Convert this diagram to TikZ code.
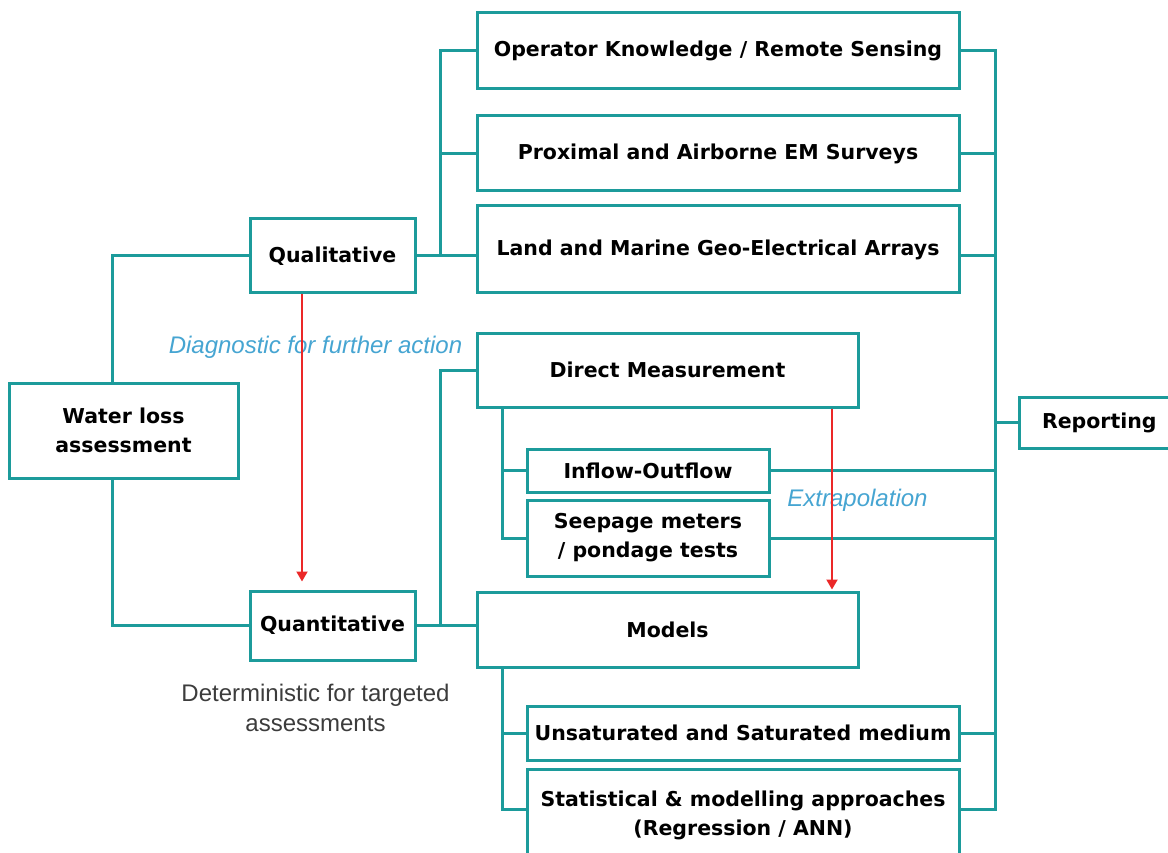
\documentclass[tikz,border=0pt]{standalone}
\usepackage{fontspec}
\setmainfont{DejaVu Sans}
\newfontfamily\labfont{Liberation Sans}
\usetikzlibrary{arrows.meta}
\definecolor{tealline}{RGB}{28,155,155}
\definecolor{redline}{RGB}{235,40,40}
\definecolor{labblue}{RGB}{70,165,210}
\definecolor{labgray}{RGB}{60,60,60}
\begin{document}
\begin{tikzpicture}[x=1pt,y=-1pt,
  box/.style={draw=tealline, line width=3pt, fill=white, inner sep=0pt, align=center,
    font=\bfseries\fontsize{20.5}{29}\selectfont},
  conn/.style={draw=tealline, line width=3pt},
  redarrow/.style={draw=redline, line width=2pt, -{Triangle[length=10pt,width=11pt]}},
  bluelab/.style={text=labblue, font=\labfont\itshape\fontsize{24}{30}\selectfont, inner sep=0pt},
  graylab/.style={text=labgray, font=\labfont\fontsize{24}{30}\selectfont, inner sep=0pt, align=center}]
\useasboundingbox (0,0) rectangle (1168,853);
\clip (0,0) rectangle (1168,853);
\fill[white] (0,0) rectangle (1168,853);

% nodes
\node[box, minimum width=482pt, minimum height=76pt] (op) at (718,51) {Operator Knowledge / Remote Sensing};
\node[box, minimum width=482pt, minimum height=75pt] (prox) at (718,153.5) {Proximal and Airborne EM Surveys};
\node[box, minimum width=482pt, minimum height=87pt] (land) at (718,249.5) {Land and Marine Geo-Electrical Arrays};
\node[box, minimum width=165pt, minimum height=74pt] (qual) at (332.5,256) {Qualitative};
\node[box, minimum width=229pt, minimum height=95pt] (wla) at (123.5,430.5) {Water loss\\assessment};
\node[box, minimum width=381pt, minimum height=74pt] (dm) at (667.5,370) {Direct Measurement};
\node[box, minimum width=242pt, minimum height=43pt] (inflow) at (648,470.5) {Inflow-Outflow};
\node[box, minimum width=242pt, minimum height=76pt] (seep) at (648,538) {Seepage meters\\/ pondage tests};
\node[box, minimum width=381pt, minimum height=75pt] (models) at (667.5,629.5) {Models};
\node[box, minimum width=165pt, minimum height=69pt] (quant) at (332.5,625.5) {Quantitative};
\node[box, minimum width=432pt, minimum height=54pt] (unsat) at (743,733) {Unsaturated and Saturated medium};
\node[box, minimum width=432pt, minimum height=92pt] (stat) at (743,815) {Statistical \& modelling approaches\\(Regression / ANN)};
\node[box, minimum width=170pt, minimum height=51pt, text width=150pt, align=left] (rep) at (1104,422.5) {\hspace*{13pt}Reporting};

% bus x positions
\coordinate (wlx) at (112,0);
\coordinate (qx) at (440,0);
\coordinate (dmx) at (502,0);
\coordinate (rbx) at (995,0);
\coordinate (ra1) at (302,0);
\coordinate (ra2) at (832,0);

% qualitative branch
\draw[conn] (op.west) -| (qual.east -| qx);
\draw[conn] (prox.west) -- (prox.west -| qx);
\draw[conn] (qual.east) -- (land.west |- qual.east);

% water loss to qualitative / quantitative
\draw[conn] (wla.north -| wlx) |- (qual.west);
\draw[conn] (wla.south -| wlx) |- (quant.west);

% quantitative branch
\draw[conn] (dm.west) -| (quant.east -| qx);
\draw[conn] (quant.east) -- (models.west |- quant.east);

% direct measurement sub-branches
\draw[conn] (dm.south -| dmx) |- (inflow.west);
\draw[conn] (dm.south -| dmx) |- (seep.west);

% models sub-branches
\draw[conn] (models.south -| dmx) |- (unsat.west);
\draw[conn] (models.south -| dmx) |- ([yshift=6pt]stat.west);

% reporting bus
\draw[conn] (op.east) -| ([yshift=6pt]stat.east -| rbx) -- ([yshift=6pt]stat.east);
\draw[conn] (prox.east) -- (prox.east -| rbx);
\draw[conn] (land.east |- qual.east) -- (qual.east -| rbx);
\draw[conn] (inflow.east) -- (inflow.east -| rbx);
\draw[conn] (seep.east) -- (seep.east -| rbx);
\draw[conn] (unsat.east) -- (unsat.east -| rbx);
\draw[conn] (rep.west) -- (rep.west -| rbx);

% labels
\node[bluelab] (diag) at (315.5,347) {Diagnostic for further action};
\node[bluelab] (extra) at (857.5,500) {Extrapolation};
\node[graylab] (det) at (315.5,708) {Deterministic for targeted\\assessments};

% red arrows
\draw[redarrow, shorten >=8pt] (qual.south -| ra1) -- (quant.north -| ra1);
\draw[redarrow, shorten >=1pt] (dm.south -| ra2) -- (models.north -| ra2);
\end{tikzpicture}
\end{document}
